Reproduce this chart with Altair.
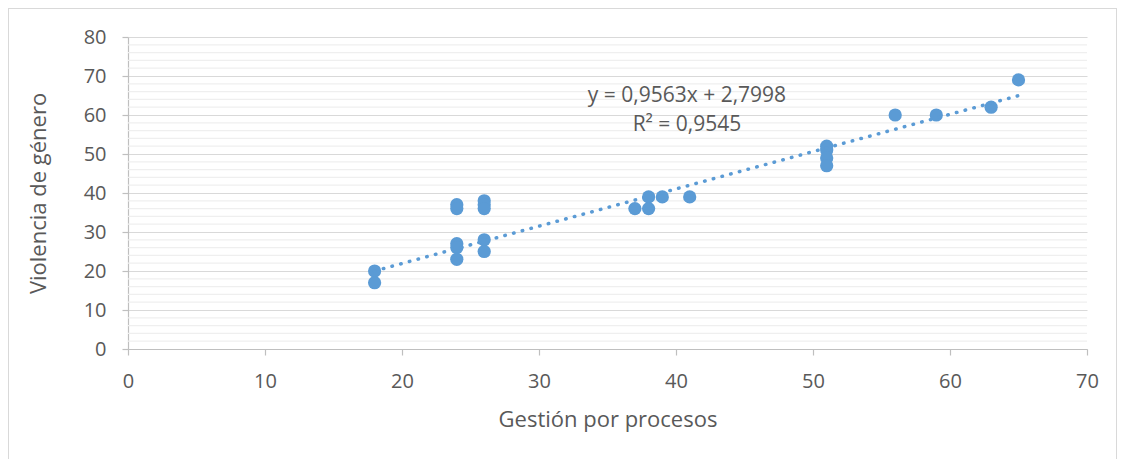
import altair as alt
import pandas as pd

gestion = [18, 18, 24, 24, 24, 24, 24, 26, 26, 26, 26, 26, 37, 38, 38, 39, 41, 51, 51, 51, 51, 56, 59, 63, 65]
violencia = [20, 17, 37, 36, 27, 26, 23, 38, 37, 36, 28, 25, 36, 39, 36, 39, 39, 52, 51, 49, 47, 60, 60, 62, 69]

x_ticks = list(range(0, 71, 10))
y_ticks = list(range(0, 81, 10))
y_minor = [v for v in range(0, 81, 2) if v % 10 != 0]

slope = 0.9563
intercept = 2.7998
eq_lines = ["y = 0,9563x + 2,7998", "R² = 0,9545"]
eq_x = [40.8, 40.8]
eq_y = [64.9, 57.4]

df = pd.DataFrame({"x": gestion, "y": violencia})
lab = pd.DataFrame({"t": eq_lines, "x": eq_x, "y": eq_y})
minor_df = pd.DataFrame({"y": y_minor})
tx = [min(gestion), max(gestion)]
trend_df = pd.DataFrame({"x": tx, "y": [slope * v + intercept for v in tx]})

BLUE = "#5B9BD5"
FONT = "Open Sans"

xs = alt.Scale(domain=[0, 70], nice=False, zero=True)
ys = alt.Scale(domain=[0, 80], nice=False, zero=True)

x_axis = alt.Axis(values=x_ticks, grid=False, title="Gestión por procesos", tickSize=6,
                  labelPadding=16, titlePadding=18, labelOverlap=False, labelFlush=False)
y_axis = alt.Axis(values=y_ticks, grid=True, gridColor="#d9d9d9", gridWidth=1.2,
                  title="Violencia de género", tickSize=6, labelPadding=16,
                  titlePadding=33, labelOverlap=False, labelFlush=False)

X = lambda: alt.X("x:Q", scale=xs, axis=x_axis)
Y = lambda: alt.Y("y:Q", scale=ys, axis=y_axis)

frame = alt.Chart(df).mark_rect(fill=None, stroke="#d9d9d9", strokeWidth=1.5).encode(
    x=alt.value(-120), x2=alt.value(989), y=alt.value(-29), y2=alt.value(500)
)

minor = alt.Chart(minor_df).mark_rule(color="#efefef", strokeWidth=1.2).encode(
    y=Y(), x=alt.value(0), x2=alt.value(959)
)

pts = alt.Chart(df).mark_circle(color=BLUE, size=175, opacity=1).encode(x=X(), y=Y())

trend = alt.Chart(trend_df).mark_line(
    color=BLUE, strokeWidth=3.5, strokeDash=[0.5, 8.5], strokeCap="round"
).encode(x=X(), y=Y())

txt = alt.Chart(lab).mark_text(font=FONT, fontSize=21, color="#595959").encode(
    x=X(), y=Y(), text="t:N"
)

chart = alt.layer(frame, minor, pts, trend, txt).properties(
    width=959, height=312, autosize="none", background="white",
    padding={"left": 120, "top": 29, "right": 30, "bottom": 110},
).configure_view(stroke=None).configure_axis(
    labelFont=FONT, titleFont=FONT, labelFontSize=20, titleFontSize=22,
    labelColor="#595959", titleColor="#595959", titleFontWeight="normal",
    domainColor="#bfbfbf", tickColor="#bfbfbf", domainWidth=1.2, tickWidth=1.2,
)

chart.save("out.html", embed_options={"renderer": "svg", "actions": False})
